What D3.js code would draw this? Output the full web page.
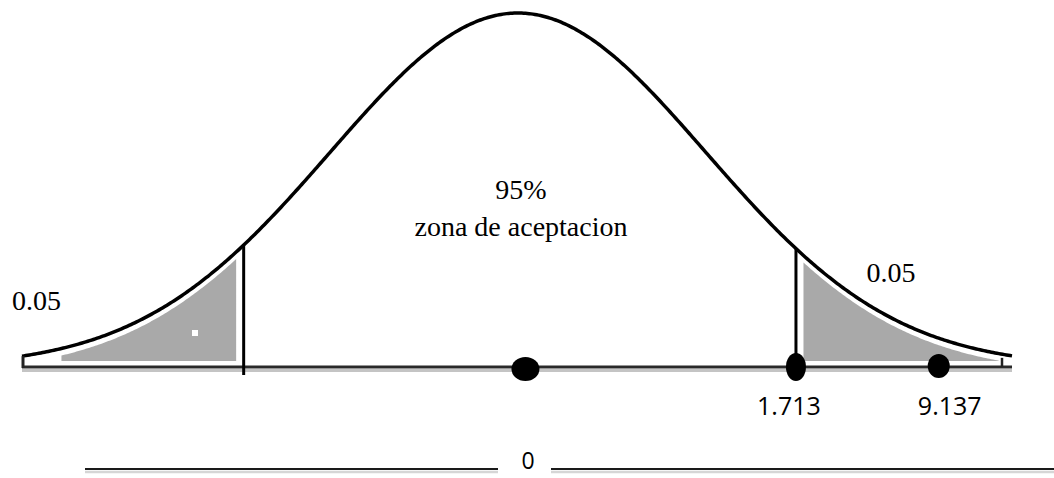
<!DOCTYPE html>
<html>
    <head>
        <meta charset="utf-8">
        <title>Zona de aceptacion</title>
        <style>
            html, body {
                margin: 0px;
                padding: 0px;
                background-color: #fff;
            }
            svg { display: block; }
            .serif { font-family: "Liberation Serif", "DejaVu Serif", serif; font-size: 28px; fill: #000; }
            .sans { font-family: "Open Sans", "Noto Sans", sans-serif; font-size: 25px; fill: #000; }
        </style>
        <script src="https://cdn.jsdelivr.net/npm/d3@7"></script>
    </head>
    <body>
        <div id="main"></div>
        <script>
            // distribution drawn in z units
            var zRange = [-2.64, 2.63];
            var criticalZ = [-1.46, 1.48];
            var pointZ = [0.04, 1.48, 2.24];
            var pointLabels = ["", "1.713", "9.137"];
            var tailLabels = ["0.05", "0.05"];
            var centerLabels = ["95%", "zona de aceptacion"];
            var axisLabel = "0";

            var width = 1054;
            var height = 478;
            var baseY = 367;

            function density(z) {
                return Math.exp(-z * z / 2);
            }

            function main() {
                var svg = d3.select("#main")
                            .append("svg")
                            .attr("width", width)
                            .attr("height", height);

                var x = d3.scaleLinear().domain(zRange).range([22, 1012]);
                var y = d3.scaleLinear().domain([0, 1]).range([baseY, 13]);

                var zs = d3.range(zRange[0], zRange[1] + 0.001, 0.01);

                // shaded tails, slightly inset below the curve
                var inset = 7;
                var tailArea = d3.area()
                    .x(function(z) { return x(z); })
                    .y0(baseY - 6)
                    .y1(function(z) { return Math.min(y(density(z)) + inset, baseY - 6); });

                var leftTail = zs.filter(function(z) { return x(z) >= 60 && x(z) <= x(criticalZ[0]) - 6; });
                var rightTail = zs.filter(function(z) { return x(z) >= x(criticalZ[1]) + 6 && x(z) <= 1000; });

                svg.selectAll("path.tail")
                    .data([leftTail, rightTail])
                    .enter()
                    .append("path")
                    .attr("class", "tail")
                    .attr("d", tailArea)
                    .attr("fill", "#a9a9a9");

                // small white fleck in left tail
                svg.append("rect")
                    .attr("x", 192).attr("y", 330)
                    .attr("width", 6).attr("height", 6)
                    .attr("fill", "#fff");

                // baseline (dark line with light shadow)
                svg.append("line")
                    .attr("x1", x(zRange[0])).attr("x2", x(zRange[1]))
                    .attr("y1", baseY + 3.5).attr("y2", baseY + 3.5)
                    .attr("stroke", "#c4c4c4").attr("stroke-width", 3);
                svg.append("line")
                    .attr("x1", x(zRange[0])).attr("x2", x(zRange[1]))
                    .attr("y1", baseY).attr("y2", baseY)
                    .attr("stroke", "#2a2a2a").attr("stroke-width", 3);

                // curve
                var line = d3.line()
                    .x(function(z) { return x(z); })
                    .y(function(z) { return y(density(z)); });

                svg.append("path")
                    .datum(zs)
                    .attr("d", line)
                    .attr("fill", "none")
                    .attr("stroke", "#000")
                    .attr("stroke-width", 3.5)
                    .attr("stroke-linejoin", "round");

                // end ticks
                svg.append("line")
                    .attr("x1", x(zRange[0]) + 1).attr("x2", x(zRange[0]) + 1)
                    .attr("y1", y(density(zRange[0]))).attr("y2", baseY + 1)
                    .attr("stroke", "#222").attr("stroke-width", 3);
                svg.append("line")
                    .attr("x1", x(zRange[1]) - 10).attr("x2", x(zRange[1]) - 10)
                    .attr("y1", y(density(zRange[1])) + 2).attr("y2", baseY)
                    .attr("stroke", "#222").attr("stroke-width", 2.5);

                // critical value lines
                svg.selectAll("line.crit")
                    .data(criticalZ)
                    .enter()
                    .append("line")
                    .attr("class", "crit")
                    .attr("x1", function(z) { return x(z); })
                    .attr("x2", function(z) { return x(z); })
                    .attr("y1", function(z) { return y(density(z)); })
                    .attr("y2", function(z, i) { return i === 0 ? baseY + 8 : baseY; })
                    .attr("stroke", "#000")
                    .attr("stroke-width", 3);

                // points on the axis
                var radii = [[14, 12], [10, 14], [11, 12]];
                svg.selectAll("ellipse.pt")
                    .data(pointZ)
                    .enter()
                    .append("ellipse")
                    .attr("class", "pt")
                    .attr("cx", function(z) { return x(z); })
                    .attr("cy", function(z, i) { return baseY + [2, 0, -1][i]; })
                    .attr("rx", function(z, i) { return radii[i][0]; })
                    .attr("ry", function(z, i) { return radii[i][1]; })
                    .attr("fill", "#000");

                svg.selectAll("text.pt")
                    .data(pointZ)
                    .enter()
                    .append("text")
                    .attr("class", "pt sans")
                    .attr("x", function(z, i) { return x(z) + [0, -7, 11][i]; })
                    .attr("y", 415)
                    .attr("text-anchor", "middle")
                    .text(function(z, i) { return pointLabels[i]; });

                // tail labels
                svg.append("text")
                    .attr("class", "serif")
                    .attr("x", 12).attr("y", 310)
                    .text(tailLabels[0]);
                svg.append("text")
                    .attr("class", "serif")
                    .attr("x", 891).attr("y", 282)
                    .attr("text-anchor", "middle")
                    .text(tailLabels[1]);

                // center labels
                svg.selectAll("text.center")
                    .data(centerLabels)
                    .enter()
                    .append("text")
                    .attr("class", "center serif")
                    .attr("x", 521)
                    .attr("y", function(d, i) { return i === 0 ? 199 : 236; })
                    .attr("text-anchor", "middle")
                    .text(function(d) { return d; });

                // bottom axis line with "0"
                var bottomY = 469;
                var segs = [[85, 498], [551, 1054]];
                segs.forEach(function(s) {
                    svg.append("line")
                        .attr("x1", s[0]).attr("x2", s[1])
                        .attr("y1", bottomY + 3).attr("y2", bottomY + 3)
                        .attr("stroke", "#d6d6d6").attr("stroke-width", 2.5);
                    svg.append("line")
                        .attr("x1", s[0]).attr("x2", s[1])
                        .attr("y1", bottomY).attr("y2", bottomY)
                        .attr("stroke", "#1a1a1a").attr("stroke-width", 2);
                });
                svg.append("text")
                    .attr("class", "sans")
                    .attr("x", 528).attr("y", 469)
                    .attr("font-size", "23px")
                    .style("font-size", "23px")
                    .attr("text-anchor", "middle")
                    .text(axisLabel);
            }

            main();
        </script>
    </body>
</html>
